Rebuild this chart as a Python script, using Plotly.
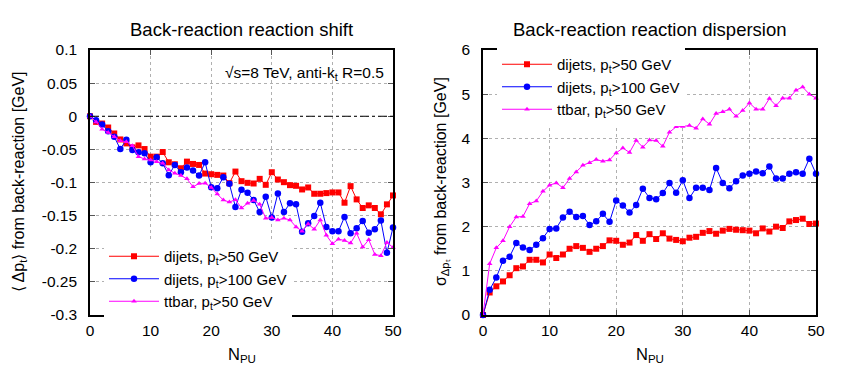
import plotly.graph_objects as go
from plotly.subplots import make_subplots

# Number of pile-up vertices
n_pu = list(range(51))

# Mean pt shift from back-reaction [GeV]
shift_dijets50 = [0, -0.0085, -0.011, -0.017, -0.026, -0.035, -0.041, -0.047, -0.044, -0.0495,
                  -0.061, -0.061, -0.054, -0.0695, -0.0725, -0.0785, -0.0685, -0.072, -0.0735, -0.0865,
                  -0.0875, -0.0885, -0.0895, -0.101, -0.0835, -0.098, -0.1005, -0.1015, -0.0945, -0.1035,
                  -0.0845, -0.0955, -0.0995, -0.104, -0.105, -0.1105, -0.1075, -0.117, -0.117, -0.116,
                  -0.115, -0.115, -0.1305, -0.1055, -0.1255, -0.1385, -0.1345, -0.1385, -0.148, -0.133,
                  -0.1195]
shift_dijets100 = [0, -0.006, -0.0125, -0.0225, -0.031, -0.0495, -0.0355, -0.051, -0.0545, -0.056,
                   -0.0695, -0.062, -0.071, -0.089, -0.0735, -0.0845, -0.0775, -0.082, -0.0895, -0.0695,
                   -0.107, -0.1085, -0.092, -0.102, -0.137, -0.111, -0.1155, -0.1265, -0.1445, -0.1215,
                   -0.153, -0.1165, -0.1445, -0.1315, -0.133, -0.1745, -0.1615, -0.1505, -0.1305, -0.167,
                   -0.1735, -0.1735, -0.152, -0.1765, -0.169, -0.158, -0.176, -0.1705, -0.1575, -0.206,
                   -0.168]
shift_ttbar50 = [0, -0.0085, -0.0195, -0.0245, -0.031, -0.037, -0.0385, -0.0445, -0.061, -0.0645,
                 -0.066, -0.0685, -0.071, -0.081, -0.086, -0.0895, -0.0945, -0.1065, -0.1015, -0.101,
                 -0.1075, -0.1175, -0.1265, -0.1295, -0.126, -0.1385, -0.1315, -0.127, -0.133, -0.154,
                 -0.153, -0.1565, -0.154, -0.1565, -0.167, -0.1735, -0.1625, -0.1705, -0.1565, -0.1795,
                 -0.1925, -0.1855, -0.1875, -0.1915, -0.1765, -0.1975, -0.1865, -0.2085, -0.2105, -0.1905,
                 -0.198]

# Dispersion of the pt shift from back-reaction [GeV]
disp_dijets50 = [0, 0.51, 0.65, 0.76, 0.90, 1.06, 1.10, 1.25, 1.25, 1.19,
                 1.37, 1.29, 1.37, 1.50, 1.56, 1.52, 1.43, 1.50, 1.56, 1.69,
                 1.68, 1.59, 1.64, 1.81, 1.68, 1.83, 1.72, 1.85, 1.73, 1.70,
                 1.67, 1.75, 1.77, 1.86, 1.90, 1.84, 1.91, 1.95, 1.93, 1.92,
                 1.91, 1.85, 1.96, 1.89, 2.00, 1.97, 2.12, 2.15, 2.18, 2.06,
                 2.07]
disp_dijets100 = [0, 0.57, 0.85, 1.23, 1.32, 1.63, 1.53, 1.47, 1.59, 1.74,
                  1.95, 1.96, 2.21, 2.34, 2.22, 2.24, 2.04, 2.12, 2.29, 2.11,
                  2.59, 2.48, 2.32, 2.49, 2.86, 2.65, 2.62, 2.76, 2.99, 2.77,
                  3.05, 2.65, 2.88, 2.88, 2.83, 3.33, 2.99, 2.87, 3.03, 3.16,
                  3.20, 3.25, 3.21, 3.36, 3.09, 3.09, 3.20, 3.23, 3.20, 3.54,
                  3.20]
disp_ttbar50 = [0, 1.16, 1.52, 1.68, 2.00, 2.22, 2.23, 2.52, 2.58, 2.80,
                2.94, 2.99, 2.88, 3.09, 3.24, 3.39, 3.45, 3.52, 3.48, 3.51,
                3.67, 3.78, 3.68, 3.95, 3.80, 3.96, 3.95, 3.82, 4.14, 4.26,
                4.27, 4.29, 4.23, 4.44, 4.32, 4.56, 4.60, 4.66, 4.50, 4.63,
                4.80, 4.66, 4.66, 4.90, 4.74, 4.91, 4.91, 5.09, 5.16, 5.00,
                4.91]

# Tick labels
shift_ticks = [0.1, 0.05, 0, -0.05, -0.1, -0.15, -0.2, -0.25, -0.3]
shift_ticktext = ["0.1", "0.05", "0", "-0.05", "-0.1", "-0.15", "-0.2", "-0.25", "-0.3"]
disp_ticks = [0, 1, 2, 3, 4, 5, 6]
npu_ticks = [0, 10, 20, 30, 40, 50]

# the page body has an 8px margin, so the figure is shrunk and everything shifted by it
OFF = 8
W, H = 846 - OFF, 385 - OFF
FONT = "Liberation Sans, Arial, sans-serif"


def fx(x):
    return (x - OFF) / W


def fy(y):
    return 1 - (y - OFF) / H


series = [
    ("dijets, p<sub>t</sub>>50 GeV", "#ff0000", "square", 6, shift_dijets50, disp_dijets50),
    ("dijets, p<sub>t</sub>>100 GeV", "#0000ff", "circle", 6.5, shift_dijets100, disp_dijets100),
    ("ttbar, p<sub>t</sub>>50 GeV", "#ff00ff", "triangle-up", 5, shift_ttbar50, disp_ttbar50),
]

fig = make_subplots(rows=1, cols=2)

for name, color, symbol, size, shift, disp in series:
    for col, yvals, leg in [(1, shift, "legend"), (2, disp, "legend2")]:
        fig.add_trace(go.Scatter(
            x=n_pu, y=yvals, name=name, mode="lines+markers",
            line=dict(color=color, width=1),
            marker=dict(color=color, symbol=symbol, size=size),
            cliponaxis=False, legend=leg,
        ), row=1, col=col)

# dash-dot zero line on the shift plot
fig.add_hline(y=0, line=dict(color="black", width=1, dash="dashdot"), row=1, col=1)

axis_style = dict(
    showline=True, linecolor="black", linewidth=1.6, mirror="ticks",
    ticks="inside", ticklen=5, tickcolor="#555555",
    showgrid=True, gridcolor="#b0b0b0", griddash="dot", gridwidth=1,
    zeroline=False, tickfont=dict(size=15.5, color="black", family=FONT),
    automargin=False,
)

fig.update_xaxes(axis_style, range=[0, 50], tickvals=npu_ticks, ticklabelstandoff=1)
fig.update_xaxes(domain=[fx(90), fx(393)], row=1, col=1)
fig.update_xaxes(domain=[fx(483), fx(816)], row=1, col=2)
fig.update_yaxes(axis_style, domain=[fy(315), fy(50)], ticklabelstandoff=8)
fig.update_yaxes(range=[-0.3, 0.1], tickvals=shift_ticks, ticktext=shift_ticktext, row=1, col=1)
fig.update_yaxes(range=[0, 6], tickvals=disp_ticks, row=1, col=2)

annots = [
    ("Back-reaction reaction shift", 241.5, 29, 18.5, 0, "center"),
    ("Back-reaction reaction dispersion", 649.5, 29, 18.5, 0, "center"),
    ("N<sub>PU</sub>", 241.5, 355, 16.5, 0, "center"),
    ("N<sub>PU</sub>", 649.5, 355, 16.5, 0, "center"),
    ("\u27e8 \u0394p<sub>t</sub>\u27e9 from back-reaction [GeV]", 19, 182, 16, -90, "center"),
    ("\u03c3<sub>\u0394p\u209c</sub> from back-reaction [GeV]", 441, 182, 16, -90, "center"),
    ("\u221as=8 TeV, anti-k<sub>t</sub> R=0.5", 386, 73, 15.5, 0, "right"),
]
for text, x, y, size, angle, xanchor in annots:
    fig.add_annotation(text=text, x=fx(x), y=fy(y), xref="paper", yref="paper",
                       xanchor=xanchor, yanchor="middle", showarrow=False,
                       textangle=angle, font=dict(size=size, color="black", family=FONT))

fig.update_layout(
    width=W, height=H,
    margin=dict(l=0, r=0, t=0, b=0, autoexpand=False),
    paper_bgcolor="white", plot_bgcolor="white",
    font=dict(family=FONT, size=15.5, color="black"),
    legend=dict(x=fx(104), y=fy(240), xanchor="left", yanchor="top", bgcolor="white",
                font=dict(size=15), tracegroupgap=0, itemwidth=50),
    legend2=dict(x=fx(497), y=fy(48), xanchor="left", yanchor="top", bgcolor="white",
                 font=dict(size=15), tracegroupgap=0, itemwidth=50),
)

fig.write_html("out.html")
